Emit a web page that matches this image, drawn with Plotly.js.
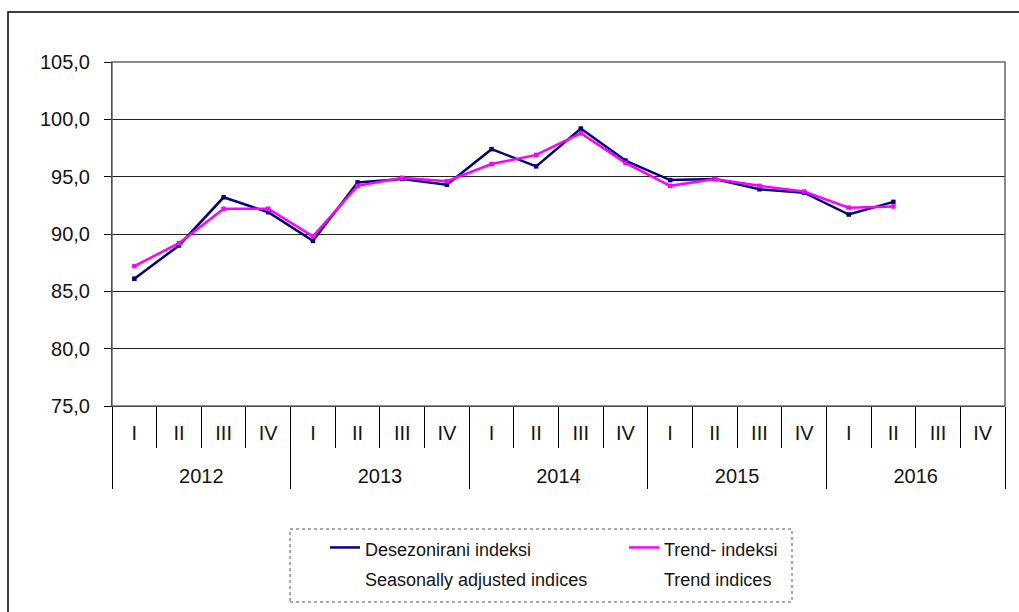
<!DOCTYPE html>
<html>
<head>
<meta charset="utf-8">
<script src="https://cdn.plot.ly/plotly-3.0.1.min.js"></script>
<style>
html,body{margin:0;padding:0;background:#fff;}
#chart{width:1019px;height:612px;}
</style>
</head>
<body>
<div id="chart"></div>
<script>
// ---- data ----
var years = ['2012', '2013', '2014', '2015', '2016'];
var quarterNames = ['I', 'II', 'III', 'IV'];
var seasonallyAdjusted = [86.1, 89.0, 93.2, 91.9, 89.4, 94.5, 94.8, 94.3, 97.4, 95.9, 99.2, 96.4, 94.7, 94.8, 93.9, 93.6, 91.7, 92.8];
var trendIndices = [87.2, 89.2, 92.2, 92.2, 89.8, 94.2, 94.9, 94.6, 96.1, 96.9, 98.8, 96.2, 94.2, 94.8, 94.2, 93.7, 92.3, 92.4];
var seriesNames = ['Desezonirani indeksi', 'Seasonally adjusted indices', 'Trend- indeksi', 'Trend indices'];
var seriesColors = ['#000080', '#FF00FF'];

// ---- derived category positions ----
var quarterLabels = [], quarterPos = [];
years.forEach(function (y, yi) {
  quarterNames.forEach(function (q, qi) {
    quarterPos.push(yi * quarterNames.length + qi);
    quarterLabels.push(q);
  });
});
var nQ = quarterLabels.length;
var yearCenters = years.map(function (y, i) { return i * quarterNames.length + (quarterNames.length - 1) / 2; });
var yearBounds = [];
for (var i = 0; i <= years.length; i++) yearBounds.push(i * quarterNames.length - 0.5);
var quarterBounds = [];
for (var j = 1; j < nQ; j++) if (j % quarterNames.length !== 0) quarterBounds.push(j - 0.5);

// ---- layout geometry ----
var W = 1019, H = 612, ML = 112, MR = 14, MT = 62, MB = 206;
var PW = W - ML - MR, PH = H - MT - MB;
function px(x) { return (x - ML) / PW; }
function py(y) { return (H - MB - y) / PH; }

var font = 'Liberation Sans, Arial, sans-serif';
var textColor = '#141414';
var xr = [-0.5, nQ - 0.5];

function legendName(a, b) {
  return '<span style="font-size:18px">' + a + '</span><br><span style="font-size:18px">' + b + '</span>';
}

var series = [seasonallyAdjusted, trendIndices];
var traces = [];
series.forEach(function (vals, k) {
  traces.push({
    x: quarterPos.slice(0, vals.length), y: vals,
    name: legendName(seriesNames[2 * k], seriesNames[2 * k + 1]),
    type: 'scatter', mode: 'lines',
    line: { color: seriesColors[k], width: 2.5 },
    showlegend: true
  });
});
series.forEach(function (vals, k) {
  traces.push({
    x: quarterPos.slice(0, vals.length), y: vals,
    type: 'scatter', mode: 'markers',
    marker: { color: seriesColors[k], size: 4.5, symbol: 'square' },
    showlegend: false
  });
});

var layout = {
  width: W, height: H,
  margin: { l: ML, r: MR, t: MT, b: MB, pad: 0, autoexpand: false },
  paper_bgcolor: '#fff', plot_bgcolor: '#fff',
  separators: ', ',
  font: { family: font, size: 20, color: textColor },
  showlegend: true,
  legend: {
    orientation: 'h',
    x: px(325), xanchor: 'left',
    y: py(526), yanchor: 'top',
    entrywidth: 254, entrywidthmode: 'pixels',
    valign: 'top',
    font: { family: font, size: 23, color: textColor },
    bgcolor: 'rgba(0,0,0,0)', borderwidth: 0,
    traceorder: 'normal'
  },
  xaxis: {
    range: xr, showgrid: false, zeroline: false,
    tickmode: 'array', tickvals: quarterPos, ticktext: quarterLabels,
    ticks: '', ticklabelstandoff: 9,
    tickfont: { family: font, size: 20, color: textColor },
    showline: true, linecolor: '#000', linewidth: 1
  },
  xaxis2: {
    overlaying: 'x', anchor: 'y', side: 'bottom', range: xr,
    showgrid: false, zeroline: false,
    tickmode: 'array', tickvals: yearCenters, ticktext: years,
    ticks: '', ticklabelstandoff: 56,
    tickfont: { family: font, size: 20, color: textColor },
    showline: false
  },
  xaxis3: {
    overlaying: 'x', anchor: 'y', side: 'bottom', range: xr,
    showgrid: false, zeroline: false,
    tickmode: 'array', tickvals: quarterBounds, ticktext: quarterBounds.map(function () { return ''; }),
    ticks: 'outside', ticklen: 41, tickwidth: 1, tickcolor: '#000',
    showticklabels: false, showline: false
  },
  xaxis4: {
    overlaying: 'x', anchor: 'y', side: 'bottom', range: xr,
    showgrid: false, zeroline: false,
    tickmode: 'array', tickvals: yearBounds, ticktext: yearBounds.map(function () { return ''; }),
    ticks: 'outside', ticklen: 82, tickwidth: 1, tickcolor: '#000',
    showticklabels: false, showline: false
  },
  yaxis: {
    range: [75, 105], dtick: 5, tick0: 75,
    tickformat: '.1f',
    showgrid: true, gridcolor: '#222', gridwidth: 1,
    zeroline: false,
    ticks: 'outside', ticklen: 7, tickwidth: 1, tickcolor: '#000',
    ticklabelstandoff: 10,
    tickfont: { family: font, size: 20, color: textColor },
    showline: true, linecolor: '#000', linewidth: 1
  },
  shapes: [
    // plot area border
    { type: 'rect', xref: 'paper', yref: 'paper', x0: 0, x1: 1, y0: 0, y1: 1,
      line: { color: '#666', width: 1.5 }, layer: 'above' },
    // outer chart frame (cut at right and bottom)
    { type: 'rect', xref: 'paper', yref: 'paper', x0: px(8), x1: px(1040), y0: py(650), y1: py(12),
      line: { color: '#000', width: 1.5 }, layer: 'below' },
    // legend dotted box
    { type: 'rect', xref: 'paper', yref: 'paper', x0: px(290), x1: px(792), y0: py(602), y1: py(529),
      line: { color: '#555', width: 1, dash: 'dot' }, layer: 'below' }
  ]
};

// invisible traces so the overlay axes are drawn
['x2', 'x3', 'x4'].forEach(function (ax) {
  traces.push({ x: [quarterPos[0]], y: [null], xaxis: ax, yaxis: 'y', type: 'scatter', mode: 'lines',
    showlegend: false, hoverinfo: 'skip' });
});

Plotly.newPlot('chart', traces, layout, { staticPlot: true, displayModeBar: false });
</script>
</body>
</html>
